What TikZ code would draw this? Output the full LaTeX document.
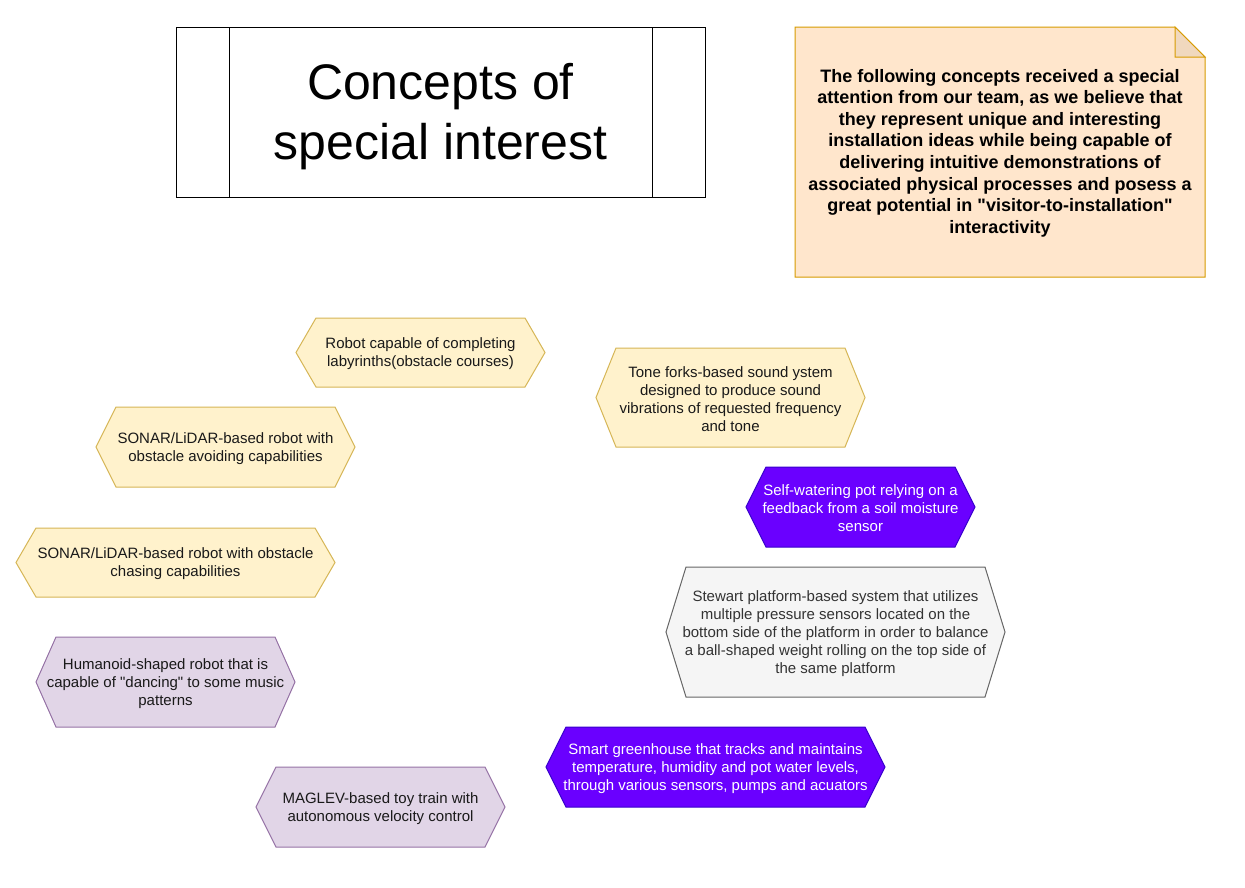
\documentclass[tikz,border=0pt]{standalone}
\usepackage{fontspec}
\setmainfont{Liberation Sans}
\definecolor{yfill}{HTML}{FFF2CC}
\definecolor{ydraw}{HTML}{D6B656}
\definecolor{pfill}{HTML}{E1D5E7}
\definecolor{pdraw}{HTML}{9673A6}
\definecolor{vfill}{HTML}{6A00FF}
\definecolor{vdraw}{HTML}{3700CC}
\definecolor{gfill}{HTML}{F5F5F5}
\definecolor{gdraw}{HTML}{666666}
\definecolor{gtext}{HTML}{333333}
\definecolor{nfill}{HTML}{FFE6CC}
\definecolor{ndraw}{HTML}{D79B00}
\definecolor{nfold}{HTML}{F0D8BE}
\tikzset{
  yhex/.style={fill=yfill,draw=ydraw,line width=1pt},
  phex/.style={fill=pfill,draw=pdraw,line width=1pt},
  vhex/.style={fill=vfill,draw=vdraw,line width=1pt},
  ghex/.style={fill=gfill,draw=gdraw,line width=1pt},
  hextext/.style={align=center,inner sep=0pt,yshift=-1.5pt,font=\fontsize{15}{18}\selectfont},
}
\newcommand{\hexbox}[8]{%
  \draw[#6] (#2,{(#3+#5)/2}) -- (#2+20,#3) -- (#4-20,#3) -- (#4,{(#3+#5)/2}) -- (#4-20,#5) -- (#2+20,#5) -- cycle;
  \node[hextext,#7] (#1) at ({(#2+#4)/2},{(#3+#5)/2}) {#8};%
}
\begin{document}
\begin{tikzpicture}[x=1pt,y=-1pt]
\useasboundingbox[fill=white] (0,0) rectangle (1245,887);
% title
\draw[line width=1pt,fill=white] (176,27) rectangle (705,197);
\draw[line width=1pt] (229,27) -- (229,197) (652,27) -- (652,197);
\node[align=center,inner sep=0pt,yshift=-4pt,font=\fontsize{50}{60}\selectfont] (title) at (440.5,113) {Concepts of\\special interest};
% note
\draw[fill=nfill,draw=ndraw,line width=1pt] (795,27) -- (1175,27) -- (1205,57) -- (1205,277) -- (795,277) -- cycle;
\draw[fill=nfold,draw=ndraw,line width=1pt] (1175,27) -- (1175,57) -- (1205,57) -- cycle;
\node[align=center,inner sep=0pt,yshift=-1pt,font=\bfseries\fontsize{18}{21.6}\selectfont] (note) at (1000,152) {The following concepts received a special\\attention from our team, as we believe that\\they represent unique and interesting\\installation ideas while being capable of\\delivering intuitive demonstrations of\\associated physical processes and posess a\\great potential in \textquotedbl visitor-to-installation\textquotedbl\\interactivity};
% hexagons
\hexbox{labyrinth}{296}{318}{545}{387}{yhex}{text=black!90}{Robot capable of completing\\labyrinths(obstacle courses)}
\hexbox{tone}{596}{348}{865}{447}{yhex}{text=black!90}{Tone forks-based sound ystem\\designed to produce sound\\vibrations of requested frequency\\and tone}
\hexbox{sonaravoid}{96}{407}{355}{487}{yhex}{text=black!90}{SONAR/LiDAR-based robot with\\obstacle avoiding capabilities}
\hexbox{selfwater}{746}{467}{975}{547}{vhex}{text=white}{Self-watering pot relying on a\\feedback from a soil moisture\\sensor}
\hexbox{sonarchase}{16}{528}{335}{597}{yhex}{text=black!90}{SONAR/LiDAR-based robot with obstacle\\chasing capabilities}
\hexbox{stewart}{666}{567}{1005}{697}{ghex}{text=gtext}{Stewart platform-based system that utilizes\\multiple pressure sensors located on the\\bottom side of the platform in order to balance\\a ball-shaped weight rolling on the top side of\\the same platform}
\hexbox{humanoid}{36}{637}{295}{727}{phex}{text=black!90}{Humanoid-shaped robot that is\\capable of \textquotedbl dancing\textquotedbl{} to some music\\patterns}
\hexbox{greenhouse}{546}{727}{885}{807}{vhex}{text=white}{Smart greenhouse that tracks and maintains\\temperature, humidity and pot water levels,\\through various sensors, pumps and acuators}
\hexbox{maglev}{256}{767}{505}{847}{phex}{text=black!90}{MAGLEV-based toy train with\\autonomous velocity control}
\end{tikzpicture}
\end{document}
